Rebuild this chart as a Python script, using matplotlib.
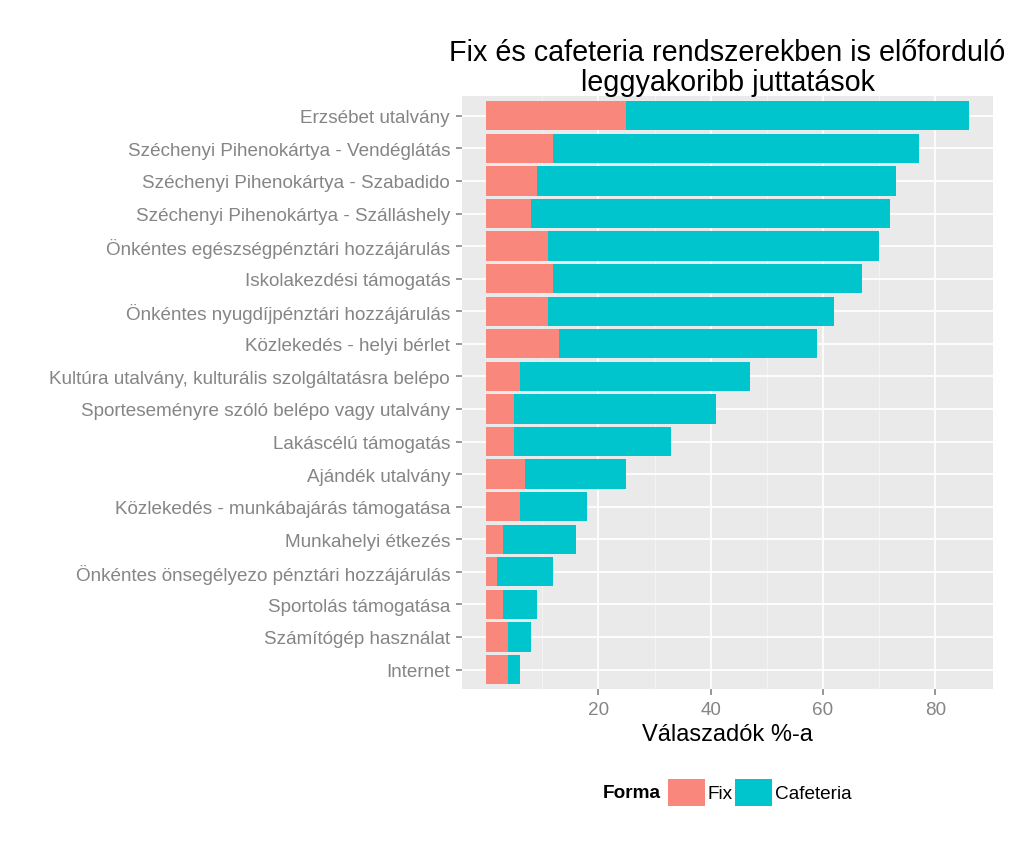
import numpy as np
import matplotlib.pyplot as plt
from matplotlib.patches import Patch

plt.rcParams['font.family'] = ['Liberation Sans', 'DejaVu Sans']

# benefit categories, top to bottom
categories = [
    "Erzsébet utalvány",
    "Széchenyi Pihenokártya - Vendéglátás",
    "Széchenyi Pihenokártya - Szabadido",
    "Széchenyi Pihenokártya - Szálláshely",
    "Önkéntes egészségpénztári hozzájárulás",
    "Iskolakezdési támogatás",
    "Önkéntes nyugdíjpénztári hozzájárulás",
    "Közlekedés - helyi bérlet",
    "Kultúra utalvány, kulturális szolgáltatásra belépo",
    "Sporteseményre szóló belépo vagy utalvány",
    "Lakáscélú támogatás",
    "Ajándék utalvány",
    "Közlekedés - munkábajárás támogatása",
    "Munkahelyi étkezés",
    "Önkéntes önsegélyezo pénztári hozzájárulás",
    "Sportolás támogatása",
    "Számítógép használat",
    "Internet",
]
fix = [25, 12, 9, 8, 11, 12, 11, 13, 6, 5, 5, 7, 6, 3, 2, 3, 4, 4]
total = [86, 77, 73, 72, 70, 67, 62, 59, 47, 41, 33, 25, 18, 16, 12, 9, 8, 6]
cafeteria = [t - f for t, f in zip(total, fix)]

c_fix = "#F9877C"
c_caf = "#00C5CD"
txt_grey = "#858585"

fig = plt.figure(figsize=(10.24, 8.53), dpi=100)
ax = fig.add_axes([0.451, 0.191, 0.519, 0.695])
ax.set_facecolor("#EAEAEA")

n = len(categories)
y = np.arange(n)[::-1] + 1

ax.barh(y, fix, height=0.9, color=c_fix, zorder=3)
ax.barh(y, cafeteria, left=fix, height=0.9, color=c_caf, zorder=3)

ax.set_xlim(-4.3, 90.3)
ax.set_ylim(0.4, n + 0.6)
ax.set_xticks([20, 40, 60, 80])
ax.set_xticks([10, 30, 50, 70], minor=True)
ax.set_yticks(y)
ax.set_yticklabels(categories)

ax.grid(True, which="major", color="white", linewidth=1.3, zorder=1)
ax.grid(True, which="minor", axis="x", color="#F4F4F4", linewidth=0.7, zorder=1)
ax.tick_params(which="major", colors="#858585", labelcolor=txt_grey, labelsize=13.6,
               length=4, width=1.2, pad=4.5)
ax.tick_params(which="minor", length=0)
for s in ax.spines.values():
    s.set_visible(False)

ax.set_xlabel("Válaszadók %-a", fontsize=17, labelpad=4)
ax.set_title("Fix és cafeteria rendszerekben is előforduló\nleggyakoribb juttatások",
             fontsize=20.7, linespacing=1.1, pad=3)

# legend
fig.text(0.589, 0.070, "Forma", fontsize=13.7, fontweight="bold", va="center", ha="left")
handles = [Patch(facecolor=c_fix, label="Fix"), Patch(facecolor=c_caf, label="Cafeteria")]
fig.legend(handles=handles, ncol=2, loc="center left", bbox_to_anchor=(0.652, 0.070),
           frameon=False, fontsize=13.7, handlelength=1.95, handleheight=1.8,
           handletextpad=0.15, columnspacing=0.1, borderpad=0, borderaxespad=0)

fig.savefig("out.png", dpi=100, facecolor="white")
